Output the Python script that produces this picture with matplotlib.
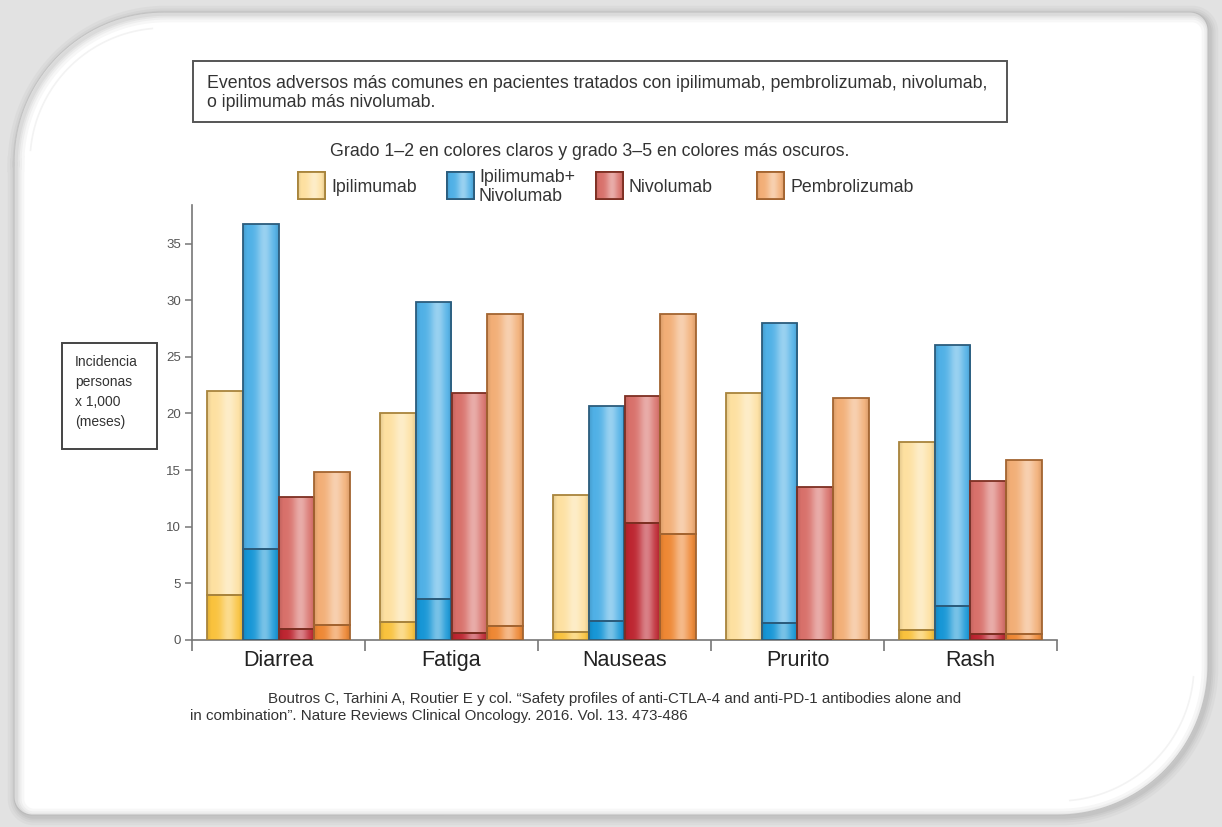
import numpy as np
import matplotlib
matplotlib.use("Agg")
import matplotlib.pyplot as plt
from matplotlib.patches import Rectangle, Polygon
from matplotlib.colors import to_rgb

plt.rcParams['font.family'] = ['Liberation Sans', 'DejaVu Sans']

# Data: incidence per 1,000 person-months, total (grade 1-5) and grade 3-5 part
categories = ['Diarrea', 'Fatiga', 'Nauseas', 'Prurito', 'Rash']
drugs = ['Ipilimumab', 'Ipilimumab+\nNivolumab', 'Nivolumab', 'Pembrolizumab']

ipi_total = [22.0, 20.0, 12.8, 21.8, 17.5]
ipi_g35 = [4.0, 1.6, 0.7, 0.0, 0.9]
combo_total = [36.7, 29.8, 20.7, 28.0, 26.0]
combo_g35 = [8.0, 3.6, 1.7, 1.5, 3.0]
nivo_total = [12.6, 21.8, 21.5, 13.5, 14.0]
nivo_g35 = [1.0, 0.6, 10.3, 0.0, 0.5]
pembro_total = [14.8, 28.8, 28.8, 21.4, 15.9]
pembro_g35 = [1.3, 1.2, 9.4, 0.0, 0.5]

yticks = [0, 5, 10, 15, 20, 25, 30, 35]

title = ("Eventos adversos más comunes en pacientes tratados con ipilimumab, pembrolizumab, nivolumab,\n"
         "o ipilimumab más nivolumab.")
subtitle = "Grado 1–2 en colores claros y grado 3–5 en colores más oscuros."
ylabel_text = "Incidencia\npersonas\nx 1,000\n(meses)"
cite1 = ("Boutros C, Tarhini A, Routier E y col. “Safety profiles of anti-CTLA-4 and "
         "anti-PD-1 antibodies alone and")
cite2 = "in combination”. Nature Reviews Clinical Oncology. 2016. Vol. 13. 473-486"

totals = [ipi_total, combo_total, nivo_total, pembro_total]
severe = [ipi_g35, combo_g35, nivo_g35, pembro_g35]
light_cols = ['#fde0a0', '#4fb0e6', '#d8706a', '#f2ae76']
dark_cols = ['#f9c23c', '#1696d6', '#bd2530', '#ee8733']
edge_cols = ['#a8843c', '#2b5c7c', '#7d2f22', '#a36430']

W, H = 1222, 827


def shade(ax, rect, color, zorder):
    # horizontal sheen over a rectangle, clipped to it
    x0, y0 = rect.get_x(), rect.get_y()
    w, h = rect.get_width(), rect.get_height()
    t = np.linspace(0, 1, 80)
    glow = np.exp(-((t - 0.6) / 0.22) ** 2)
    edge = np.clip(1 - np.minimum(t, 1 - t) / 0.12, 0, 1)
    base = np.array(to_rgb(color))
    img = base[None, :] * (1 - 0.42 * glow[:, None]) + 0.42 * glow[:, None]
    img = img * (1 - 0.10 * edge[:, None])
    im = ax.imshow(img[None, :, :], extent=(x0, x0 + w, y0, y0 + h),
                   aspect='auto', zorder=zorder, interpolation='bilinear')
    im.set_clip_path(rect)


def arc(cx, cy, r, a0, a1, n=40):
    a = np.radians(np.linspace(a0, a1, n))
    return np.column_stack([cx + r * np.cos(a), cy + r * np.sin(a)])


fig = plt.figure(figsize=(W / 100, H / 100), dpi=100, facecolor='#e2e2e2')

# page card with soft shadow (pixel coordinates, y downwards)
bg = fig.add_axes([0, 0, 1, 1])
bg.set_axis_off()
L, T, R, B = 14, 12, 1208, 815
rtl, rbr, rsm = 150, 150, 18
card = np.vstack([
    arc(L + rtl, T + rtl, rtl, 180, 270),
    arc(R - rsm, T + rsm, rsm, 270, 360),
    arc(R - rbr, B - rbr, rbr, 0, 90),
    arc(L + rsm, B - rsm, rsm, 90, 180),
])
closed = np.vstack([card, card[:1]])
for lw, a in [(12, 0.05), (8, 0.06), (5, 0.07), (2.5, 0.08)]:
    bg.plot(closed[:, 0] + 2, closed[:, 1] + 2, color='#666666', lw=lw, alpha=a,
            solid_joinstyle='round')
bg.add_patch(Polygon(card, closed=True, facecolor='white', edgecolor='#d8d8d8', lw=0.8))
inner = arc(L + rtl, T + rtl, rtl - 16, 185, 265)
bg.plot(inner[:, 0], inner[:, 1], color='#f3f3f3', lw=1.2)
inner2 = arc(R - rbr, B - rbr, rbr - 14, 5, 85)
bg.plot(inner2[:, 0], inner2[:, 1], color='#f3f3f3', lw=1.2)

# title box
bg.add_patch(Rectangle((193, 61), 814, 61, facecolor='white', edgecolor='#555555', lw=1.4))
bg.text(207, 93, title, fontsize=12.8, color='#333333', va='center', ha='left',
        linespacing=1.15)
bg.text(590, 152, subtitle, fontsize=12.8, color='#333333', va='center', ha='center')

# legend row
swatch_x = [298, 447, 596, 757]
label_x = [331, 479, 628, 790]
for i in range(4):
    sw = Rectangle((swatch_x[i], 172), 27, 27, facecolor=light_cols[i],
                   edgecolor=edge_cols[i], lw=1.3, zorder=3)
    bg.add_patch(sw)
    shade(bg, sw, light_cols[i], 3.5)
    bg.add_patch(Rectangle((swatch_x[i], 172), 27, 27, facecolor='none',
                           edgecolor=edge_cols[i], lw=1.3, zorder=4))
    bg.text(label_x[i], 187, drugs[i], fontsize=12.8, color='#333333',
            va='center', ha='left', linespacing=1.15)

# y-label box
bg.add_patch(Rectangle((62, 343), 95, 106, facecolor='white', edgecolor='#444444', lw=1.4))
bg.text(75, 392, ylabel_text, fontsize=10, color='#333333', va='center', ha='left',
        linespacing=1.55)

# citation
bg.text(268, 699, cite1, fontsize=10.9, color='#333333', va='center', ha='left')
bg.text(190, 716, cite2, fontsize=10.9, color='#333333', va='center', ha='left')

bg.set_xlim(0, W)
bg.set_ylim(H, 0)

# bar chart
ax = fig.add_axes([192 / W, 1 - 640 / H, (1057 - 192) / W, (640 - 205) / H])
ax.patch.set_alpha(0)
x = np.arange(len(categories))
bw = 0.208
for i in range(4):
    xi = x + (i - 1.5) * bw
    tot = np.array(totals[i])
    sev = np.array(severe[i])
    for xv, t, s in zip(xi, tot, sev):
        if s > 0:
            r = ax.bar(xv, s, bw, color=dark_cols[i], lw=0, zorder=2)[0]
            shade(ax, r, dark_cols[i], 2.5)
        r = ax.bar(xv, t - s, bw, bottom=s, color=light_cols[i], lw=0, zorder=2)[0]
        shade(ax, r, light_cols[i], 2.5)
        if s > 0:
            ax.bar(xv, s, bw, facecolor='none', edgecolor=edge_cols[i], lw=1.3, zorder=3)
        ax.bar(xv, t - s, bw, bottom=s, facecolor='none', edgecolor=edge_cols[i],
               lw=1.3, zorder=3)

ax.set_xlim(-0.5, len(categories) - 0.5)
ax.set_ylim(0, 38.4)
ax.set_yticks(yticks)
ax.set_yticklabels([str(v) for v in yticks])
ax.set_xticks(np.arange(len(categories) + 1) - 0.5)
ax.set_xticklabels([])
ax.set_xticks(x, minor=True)
ax.set_xticklabels(categories, minor=True, fontsize=15.5, color='#222222')
ax.tick_params(axis='x', which='major', direction='out', length=8, width=1.2,
               color='#777777')
ax.tick_params(axis='x', which='minor', length=0, pad=7)
ax.tick_params(axis='y', direction='out', length=5, width=1.1, color='#777777',
               labelsize=9.5, labelcolor='#555555', pad=3)
for side in ['top', 'right']:
    ax.spines[side].set_visible(False)
for side in ['left', 'bottom']:
    ax.spines[side].set_color('#777777')
    ax.spines[side].set_linewidth(1.2)

fig.savefig('out.png', dpi=100, facecolor=fig.get_facecolor())
